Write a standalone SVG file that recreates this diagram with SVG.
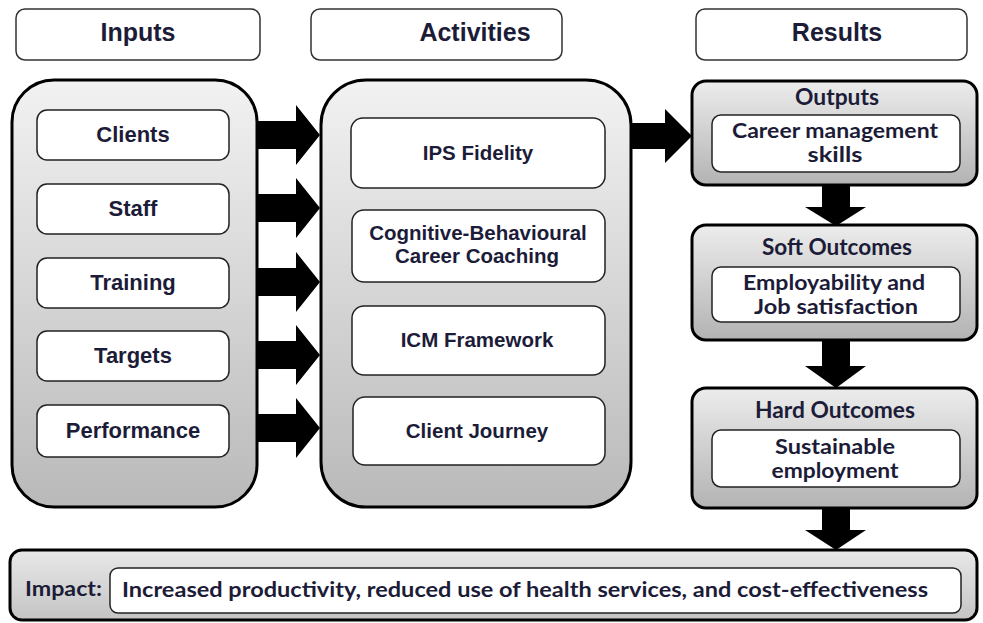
<svg xmlns="http://www.w3.org/2000/svg" width="983" height="623" viewBox="0 0 983 623">
<defs>
<linearGradient id="gBig" x1="0" y1="0" x2="0" y2="1">
<stop offset="0" stop-color="#f2f2f2"/>
<stop offset="1" stop-color="#b9b9b9"/>
</linearGradient>
<linearGradient id="gRes" x1="0" y1="0" x2="0" y2="1">
<stop offset="0" stop-color="#ececec"/>
<stop offset="1" stop-color="#b3b3b3"/>
</linearGradient>
<linearGradient id="gImp" x1="0" y1="0" x2="0" y2="1">
<stop offset="0" stop-color="#e8e8e8"/>
<stop offset="1" stop-color="#c4c4c4"/>
</linearGradient>
</defs>
<style>
.hdr{fill:#fff;stroke:#333;stroke-width:1.5}
.big{fill:url(#gBig);stroke:#000;stroke-width:3}
.res{fill:url(#gRes);stroke:#000;stroke-width:3}
.imp{fill:url(#gImp);stroke:#000;stroke-width:3}
.inner{fill:#fff;stroke:#222;stroke-width:1.5}
.arrow{fill:#000}
.ta{font-family:"Liberation Sans",Arial,sans-serif;font-weight:bold;fill:#1c1c38;text-anchor:middle}
.tc{font-family:Lato,"Open Sans",sans-serif;font-weight:bold;fill:#1c1c38;text-anchor:middle}
.h{font-size:25px}
.l{font-size:22px}
.m{font-size:20.5px}
.r{font-size:22px}
.s{font-size:20px}
</style>
<rect width="983" height="623" fill="#fff"/>

<g id="hdr-inputs"><rect class="hdr" x="16" y="9" width="244" height="51" rx="9"/><text class="ta h" x="138" y="41">Inputs</text></g>
<g id="hdr-activities"><rect class="hdr" x="311" y="9" width="251" height="51" rx="9"/><text class="ta h" x="475" y="41">Activities</text></g>
<g id="hdr-results"><rect class="hdr" x="696" y="9" width="271" height="51" rx="9"/><text class="ta h" x="837" y="41">Results</text></g>

<g id="inputs">
<rect class="big" x="12" y="80" width="245" height="427" rx="42"/>
<g id="in-clients"><rect class="inner" x="37" y="110" width="192" height="50" rx="10"/><text class="ta l" x="133" y="142">Clients</text></g>
<g id="in-staff"><rect class="inner" x="37" y="184" width="192" height="50" rx="10"/><text class="ta l" x="133" y="216">Staff</text></g>
<g id="in-training"><rect class="inner" x="37" y="258" width="192" height="50" rx="10"/><text class="ta l" x="133" y="290">Training</text></g>
<g id="in-targets"><rect class="inner" x="37" y="331" width="192" height="50" rx="10"/><text class="ta l" x="133" y="363">Targets</text></g>
<g id="in-performance"><rect class="inner" x="37" y="405" width="192" height="52" rx="10"/><text class="ta l" x="133" y="438">Performance</text></g>
</g>

<g id="activities">
<rect class="big" x="321" y="80" width="310" height="427" rx="45"/>
<g id="act-ips"><rect class="inner" x="351" y="118" width="254" height="70" rx="12"/><text class="ta m" x="478" y="160">IPS Fidelity</text></g>
<g id="act-cbcc"><rect class="inner" x="352" y="210" width="253" height="72" rx="12"/><text class="ta m" x="478" y="240">Cognitive-Behavioural</text><text class="ta m" x="477" y="263">Career Coaching</text></g>
<g id="act-icm"><rect class="inner" x="352" y="306" width="253" height="69" rx="12"/><text class="ta m" x="477" y="347">ICM Framework</text></g>
<g id="act-journey"><rect class="inner" x="353" y="397" width="252" height="68" rx="12"/><text class="ta m" x="477" y="438">Client Journey</text></g>
</g>

<g id="outputs">
<rect class="res" x="692" y="81" width="285" height="104" rx="14"/>
<text class="tc r" x="837" y="105" textLength="84" lengthAdjust="spacingAndGlyphs">Outputs</text>
<rect class="inner" x="712" y="115" width="248" height="57" rx="9"/>
<text class="tc s" x="835" y="138" textLength="206" lengthAdjust="spacingAndGlyphs">Career management</text>
<text class="tc s" x="835" y="162" textLength="55" lengthAdjust="spacingAndGlyphs">skills</text>
</g>

<g id="soft-outcomes">
<rect class="res" x="692" y="225" width="285" height="115" rx="14"/>
<text class="tc r" x="837" y="255" textLength="150" lengthAdjust="spacingAndGlyphs">Soft Outcomes</text>
<rect class="inner" x="712" y="267" width="248" height="55" rx="9"/>
<text class="tc s" x="834" y="290" textLength="182" lengthAdjust="spacingAndGlyphs">Employability and</text>
<text class="tc s" x="836" y="314" textLength="164" lengthAdjust="spacingAndGlyphs">Job satisfaction</text>
</g>

<g id="hard-outcomes">
<rect class="res" x="692" y="388" width="285" height="120" rx="14"/>
<text class="tc r" x="835" y="418" textLength="160" lengthAdjust="spacingAndGlyphs">Hard Outcomes</text>
<rect class="inner" x="712" y="430" width="248" height="57" rx="9"/>
<text class="tc s" x="835" y="454" textLength="120" lengthAdjust="spacingAndGlyphs">Sustainable</text>
<text class="tc s" x="835" y="478" textLength="127" lengthAdjust="spacingAndGlyphs">employment</text>
</g>

<g id="impact">
<rect class="imp" x="10" y="550" width="967" height="70" rx="12"/>
<text class="tc" x="25" y="596" font-size="21" style="text-anchor:start" textLength="77" lengthAdjust="spacingAndGlyphs">Impact:</text>
<rect class="inner" x="110" y="568" width="851" height="45" rx="8"/>
<text class="tc" x="122" y="597" font-size="21" style="text-anchor:start" textLength="806" lengthAdjust="spacingAndGlyphs">Increased productivity, reduced use of health services, and cost-effectiveness</text>
</g>

<g id="connectors">
<polygon class="arrow" points="257,121 296,121 296,105 320,135 296,165 296,149 257,149"/>
<polygon class="arrow" points="257,194 296,194 296,178 320,208 296,238 296,222 257,222"/>
<polygon class="arrow" points="257,268 296,268 296,252 320,282 296,312 296,296 257,296"/>
<polygon class="arrow" points="257,341 296,341 296,325 320,355 296,385 296,369 257,369"/>
<polygon class="arrow" points="257,414 296,414 296,398 320,428 296,458 296,442 257,442"/>
<polygon class="arrow" points="631,123 665,123 665,109 692,136 665,163 665,149 631,149"/>
<polygon class="arrow" points="822,185 822,207 805,207 836,226 866,207 850,207 850,185"/>
<polygon class="arrow" points="822,340 822,366 805,366 836,388 866,366 850,366 850,340"/>
<polygon class="arrow" points="822,508 822,530 805,530 836,550 866,530 850,530 850,508"/>
</g>
</svg>
